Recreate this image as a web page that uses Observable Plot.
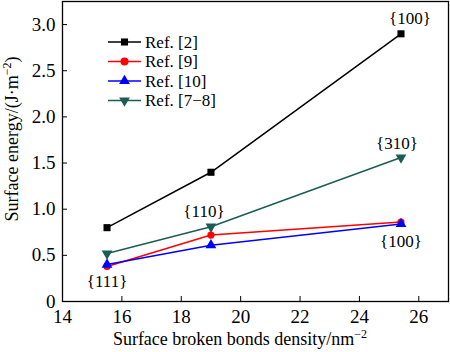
<!DOCTYPE html>
<html><head><meta charset="utf-8">
<script src="https://cdn.jsdelivr.net/npm/d3@7"></script>
<script src="https://cdn.jsdelivr.net/npm/@observablehq/plot@0.6"></script>
<style>
body{margin:0;background:#fff}
svg{display:block}
svg text, svg tspan {font-family:"Liberation Serif","Times New Roman",serif !important;}
</style>
</head><body><div id="chart"></div>
<script>
// ---- data ----
const density = [15.5, 19.0, 25.4];
const seriesNames = ["Ref. [2]", "Ref. [9]", "Ref. [10]", "Ref. [7\u22128]"];
const ref2 = [0.80, 1.40, 2.90];
const ref9 = [0.38, 0.72, 0.86];
const ref10 = [0.40, 0.61, 0.84];
const ref78 = [0.52, 0.81, 1.56];
const seriesColors = ["#000000", "#ff0000", "#0000ff", "#1b5c55"];
const xTicks = [14, 16, 18, 20, 22, 24, 26];
const yTicks = [0, 0.5, 1.0, 1.5, 2.0, 2.5, 3.0];
const planeLabels = ["{100}", "{310}", "{110}", "{100}", "{111}"];

const font = "Liberation Serif";
const triDown = {
  draw(ctx, size) {
    const y = Math.sqrt(size / (3 * Math.sqrt(3)));
    ctx.moveTo(0, 2 * y);
    ctx.lineTo(Math.sqrt(3) * y, -y);
    ctx.lineTo(-Math.sqrt(3) * y, -y);
    ctx.closePath();
  }
};
const symbols = ["square", "circle", "triangle", triDown];
const seriesValues = [ref2, ref9, ref10, ref78];

const rows = [];
seriesValues.forEach((vals, s) => vals.forEach((v, i) => rows.push({series: seriesNames[s], x: density[i], y: v, s})));
const drawOrder = [0, 3, 1, 2];

const marks = [Plot.frame({stroke: "black", strokeWidth: 1.3})];
for (const s of drawOrder) {
  const d = rows.filter(r => r.s === s);
  marks.push(Plot.line(d, {x: "x", y: "y", stroke: seriesColors[s], strokeWidth: 1.5}));
  marks.push(Plot.dot(d, {x: "x", y: "y", fill: seriesColors[s], stroke: "none", symbol: symbols[s], r: s === 1 ? 3.6 : 4}));
}
// plane labels anchored to data points
const lab = (text, xv, yv, dx, dy) => Plot.text([text], {x: () => xv, y: () => yv, text: d => d, dx, dy, fontSize: 17, fill: "black"});
marks.push(lab(planeLabels[0], density[2], ref2[2], 9, -15));
marks.push(lab(planeLabels[1], density[2], ref78[2], -4, -14));
marks.push(lab(planeLabels[2], density[1], ref78[1], -7, -15));
marks.push(lab(planeLabels[3], density[2], ref10[2], 0, 18));
marks.push(lab(planeLabels[4], density[0], ref9[0], 0, 15));

marks.push(Plot.axisX({ticks: xTicks, tickSize: -5, tickPadding: 13, tickFormat: d => String(d), label: null, fontSize: 19}));
marks.push(Plot.axisY({ticks: yTicks, tickSize: -5, tickPadding: 12, tickFormat: d => d === 0 ? "0" : d.toFixed(1), label: null, fontSize: 19}));

const chart = Plot.plot({
  width: 450, height: 352,
  marginLeft: 62, marginRight: 2, marginTop: 1, marginBottom: 51,
  x: {domain: [14, 27]},
  y: {domain: [0, 3.25]},
  style: {background: "white", color: "black"},
  marks
});
document.getElementById("chart").append(chart);

const svg = d3.select(chart);
// axis titles
const yt = svg.append("text").attr("transform", "translate(18,139) rotate(-90)")
  .attr("text-anchor", "middle").attr("font-size", 18).attr("fill", "black");
yt.append("tspan").text("Surface energy/(J\u00b7m");
yt.append("tspan").attr("font-size", 12).attr("dy", -7).text("\u22122");
yt.append("tspan").attr("dy", 7).text(")");
const xt = svg.append("text").attr("x", 240).attr("y", 345)
  .attr("text-anchor", "middle").attr("font-size", 18).attr("fill", "black");
xt.append("tspan").text("Surface broken bonds density/nm");
xt.append("tspan").attr("font-size", 12).attr("dy", -7).text("\u22122");

// legend
const lg = svg.append("g");
seriesNames.forEach((name, i) => {
  const y = 42 + i * 19.5;
  const g = lg.append("g").attr("transform", `translate(0,${y})`);
  g.append("line").attr("x1", 108).attr("x2", 141).attr("stroke", seriesColors[i]).attr("stroke-width", 1.5);
  const sym = typeof symbols[i] === "string"
    ? {square: d3.symbolSquare, circle: d3.symbolCircle, triangle: d3.symbolTriangle}[symbols[i]]
    : symbols[i];
  g.append("path").attr("transform", "translate(124.5,0)").attr("d", d3.symbol(sym, Math.PI * 16)()).attr("fill", seriesColors[i]);
  g.append("text").attr("x", 145).attr("y", 0).attr("dy", "0.35em").attr("text-anchor", "start")
    .attr("font-size", 17).attr("fill", "black").text(name);
});
</script>
</body></html>
